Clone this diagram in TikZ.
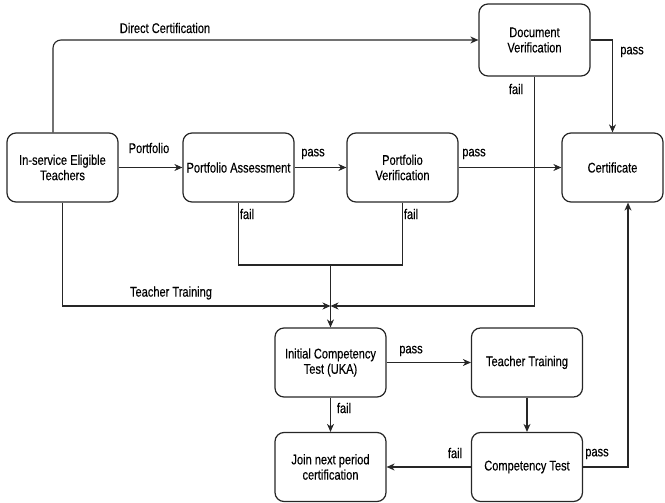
\documentclass[tikz,border=0pt]{standalone}
\usepackage{fontspec}
\setmainfont[FakeStretch=0.79,FakeBold=0.3]{Liberation Sans}
\usetikzlibrary{arrows.meta}
\begin{document}
\begin{tikzpicture}[x=1pt,y=-1pt,
  box/.style={draw=black!85, line width=1.2pt, rounded corners=9pt, minimum width=111pt, minimum height=69pt, align=center, inner sep=2pt, font=\fontsize{14}{15.3}\selectfont},
  lbl/.style={font=\fontsize{14}{15.3}\selectfont, inner sep=0pt},
  conn/.style={draw=black!85, line width=1.1pt},
  arr/.style={conn, -{Stealth[length=8pt,width=7pt,inset=2.5pt]}}]
\useasboundingbox (0,0) rectangle (665,503);
% boxes
\node[box] (In) at (62.5,167.5) {In-service Eligible\\Teachers};
\node[box] (PA) at (238.5,167.5) {Portfolio Assessment};
\node[box] (PV) at (402.5,167.5) {Portfolio\\Verification};
\node[box, minimum height=72pt] (DV) at (534.5,40) {Document\\Verification};
\node[box, minimum width=101pt] (Cert) at (612.5,167.5) {Certificate};
\node[box] (ICT) at (330.5,362.5) {Initial Competency\\Test (UKA)};
\node[box] (Join) at (330.5,467) {Join next period\\certification};
\node[box] (TT) at (527,362.5) {Teacher Training};
\node[box] (CT) at (527,467) {Competency Test};
% helper coordinates
\coordinate (m) at (330.5,306);
\coordinate (j) at (330.5,265);
% connectors
\draw[arr, rounded corners=8pt] ([xshift=-9.5pt]In.north) |- (DV.west);
\draw[arr] (In.east) -- (PA.west);
\draw[arr] (PA.east) -- (PV.west);
\draw[arr] (PV.east) -- (Cert.west);
\draw[arr] (DV.east) -| (Cert.north);
\draw[arr] (DV.south) |- (m);
\draw[arr] (In.south) |- (m);
\draw[conn] (PA.south) |- (j);
\draw[conn] (PV.south) |- (j);
\draw[arr] (j) -- (ICT.north);
\draw[arr] (ICT.east) -- (TT.west);
\draw[arr] (ICT.south) -- (Join.north);
\draw[arr] (TT.south) -- (CT.north);
\draw[arr] (CT.west) -- (Join.east);
\draw[arr] (CT.east) -| ([xshift=15.5pt]Cert.south);
% labels
\node[lbl] (l1) at (165,28) {Direct Certification};
\node[lbl] (l2) at (149,148) {Portfolio};
\node[lbl] (l3) at (313,154) {pass};
\node[lbl] (l4) at (474,154) {pass};
\node[lbl] (l5) at (632,52) {pass};
\node[lbl] (l6) at (516,89) {fail};
\node[lbl] (l7) at (247,214) {fail};
\node[lbl] (l8) at (411,214) {fail};
\node[lbl] (l9) at (171,293) {Teacher Training};
\node[lbl] (l10) at (411,351) {pass};
\node[lbl] (l11) at (344,408) {fail};
\node[lbl] (l12) at (455,453) {fail};
\node[lbl] (l13) at (597,454) {pass};
\end{tikzpicture}
\end{document}
